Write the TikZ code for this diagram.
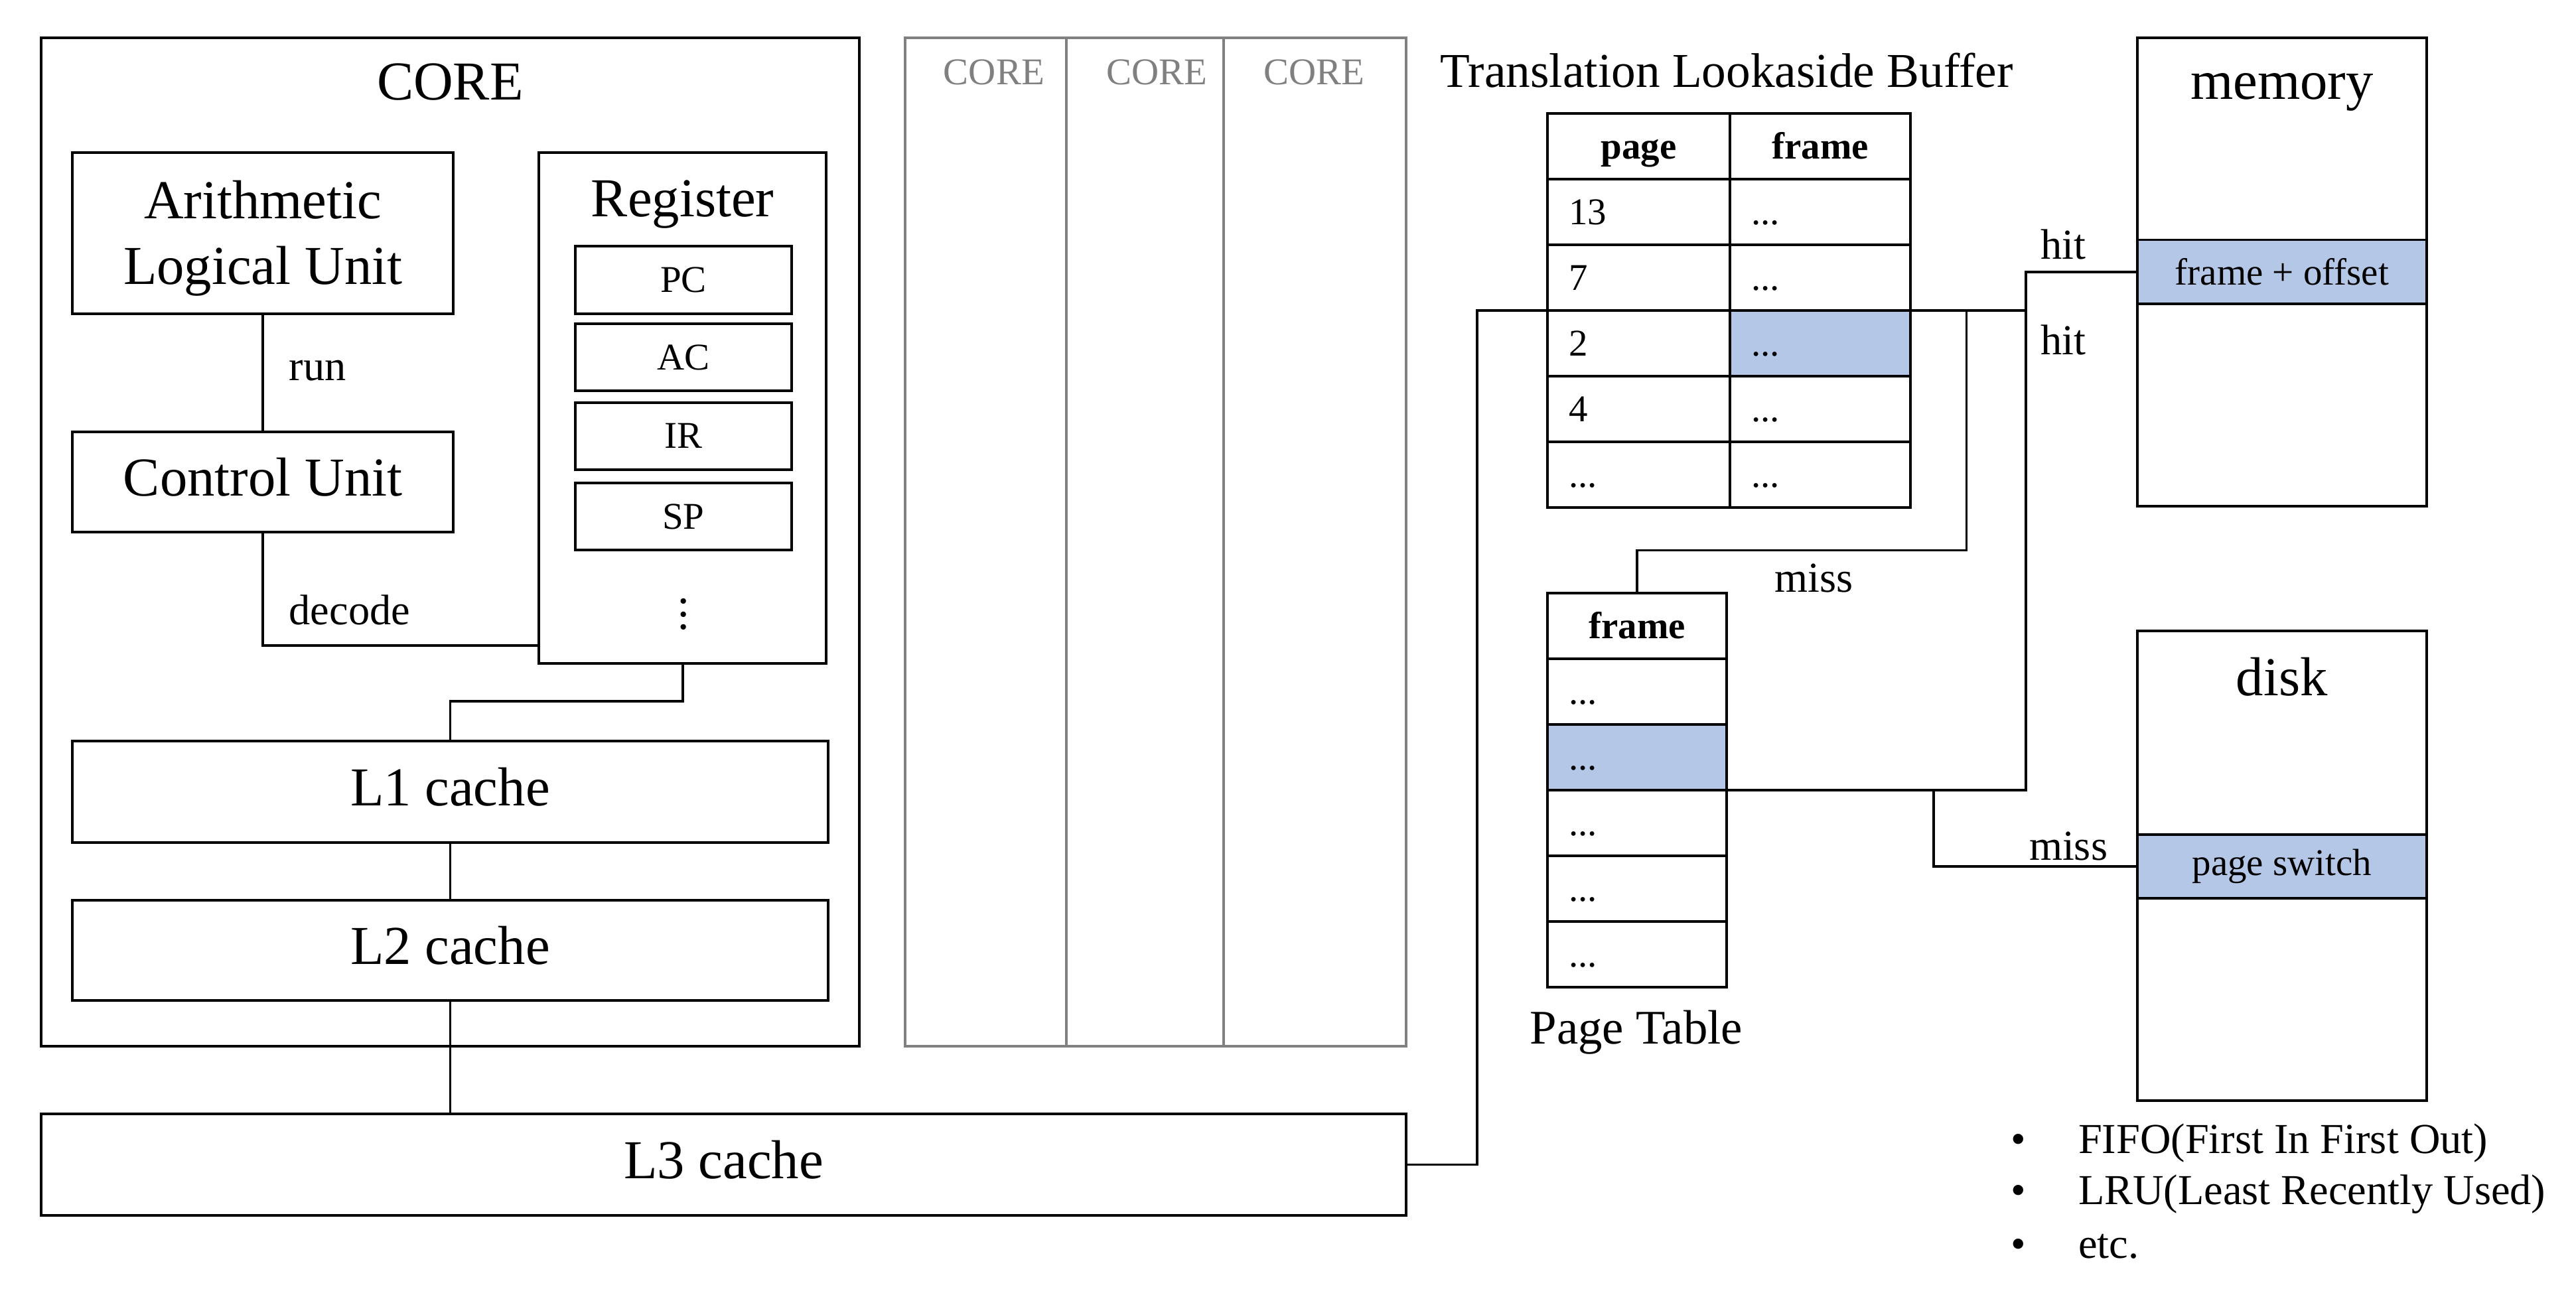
\documentclass[tikz,border=0pt]{standalone}
\usepackage{fontspec}
\setmainfont{Liberation Serif}
\usetikzlibrary{calc}
\definecolor{hl}{HTML}{B4C7E7}
\definecolor{cgray}{HTML}{808080}
\tikzset{
  box/.style={draw, line width=0.8pt, inner sep=0pt, outer sep=0pt},
  gbox/.style={draw=cgray, line width=0.8pt, inner sep=0pt, outer sep=0pt},
  conn/.style={line width=0.75pt},
  txt/.style={inner sep=0pt, outer sep=0pt},
  bigfont/.style={font=\fontsize{16.7}{20}\selectfont},
  midfont/.style={font=\fontsize{14.8}{17}\selectfont},
  lblfont/.style={font=\fontsize{13}{15}\selectfont},
  smallfont/.style={font=\fontsize{11.5}{13}\selectfont},
  raised/.style={text depth=3pt},
  cell/.style={box, smallfont, minimum height=20pt, text height=7.6pt, text depth=0pt},
  hcell/.style={cell, font=\fontsize{11.5}{13}\selectfont\bfseries},
  lcell/.style={cell, inner xsep=6.5pt, text width=#1, align=left},
}
\begin{document}
\begin{tikzpicture}[x=0.5pt, y=-0.5pt]
\useasboundingbox (0,0) rectangle (1568,788.4);

% ---------- CORE ----------
\node[box, minimum width=249pt, minimum height=307pt] (core) at (274,330) {};
\node[txt, bigfont] (coret) at (274,50) {CORE};
\node[box, minimum width=116pt, minimum height=49pt] (alu) at (160,142) {};
\node[txt, bigfont] (alut1) at (160,121.5) {Arithmetic};
\node[txt, bigfont, anchor=base] (alut2) at ([yshift=-20pt]alut1.base) {Logical Unit};
\node[box, bigfont, raised, minimum width=116pt, minimum height=30.5pt] (cu) at (160,293.5) {Control Unit};
\node[box, minimum width=87.5pt, minimum height=155.5pt] (reg) at (415.5,248.5) {};
\node[txt, bigfont] (regt) at (415.5,124.5) {Register};
\node[box, smallfont, minimum width=66pt, minimum height=20.5pt] (pc) at (416,170.5) {PC};
\node[box, smallfont, minimum width=66pt, minimum height=20.5pt] (ac) at (416,217.5) {AC};
\node[box, smallfont, minimum width=66pt, minimum height=20.5pt] (ir) at (416,265.5) {IR};
\node[box, smallfont, minimum width=66pt, minimum height=20.5pt] (sp) at (416,314.5) {SP};
\node[txt, font=\fontsize{14}{14}\selectfont] (rdots) at (416,368) {$\vdots$};
\node[box, bigfont, raised, minimum width=230pt, minimum height=31pt] (l1) at (274,482) {L1 cache};
\node[box, bigfont, raised, minimum width=230pt, minimum height=30.5pt] (l2) at (274,578.5) {L2 cache};
\node[box, bigfont, raised, minimum width=415.5pt, minimum height=31pt] (l3) at (440.5,709) {L3 cache};

\node[txt, lblfont, anchor=west] (run) at (176,225.5) {run};
\node[txt, lblfont, anchor=west] (dec) at (176,371.5) {decode};

% ---------- other cores ----------
\node[gbox, minimum width=49pt, minimum height=307pt] (g1) at (600,330) {};
\node[gbox, minimum width=48pt, minimum height=307pt] (g2) at (697,330) {};
\node[gbox, minimum width=55.5pt, minimum height=307pt] (g3) at (800.5,330) {};
\node[txt, smallfont, text=cgray] (g1t) at (605,44) {CORE};
\node[txt, smallfont, text=cgray] (g2t) at (704,44) {CORE};
\node[txt, smallfont, text=cgray] (g3t) at (800,44) {CORE};

% ---------- TLB ----------
\node[txt, midfont] (tlbt) at (1051,43) {Translation Lookaside Buffer};
\node[hcell, minimum width=55.5pt] (tha) at (997.5,89) {page};
\node[hcell, minimum width=55pt] (thb) at (1108,89) {frame};
\node[lcell=42.5pt] (t1a) at (997.5,129) {13};
\node[lcell=42pt] (t1b) at (1108,129) {...};
\node[lcell=42.5pt] (t2a) at (997.5,169) {7};
\node[lcell=42pt] (t2b) at (1108,169) {...};
\node[lcell=42.5pt] (t3a) at (997.5,209) {2};
\node[lcell=42pt, fill=hl] (t3b) at (1108,209) {...};
\node[lcell=42.5pt] (t4a) at (997.5,249) {4};
\node[lcell=42pt] (t4b) at (1108,249) {...};
\node[lcell=42.5pt] (t5a) at (997.5,289) {...};
\node[lcell=42pt] (t5b) at (1108,289) {...};

% ---------- Page table ----------
\node[hcell, minimum width=54.5pt] (ph) at (996.5,381) {frame};
\node[lcell=41.5pt] (p1) at (996.5,421) {...};
\node[lcell=41.5pt, fill=hl] (p2) at (996.5,461) {...};
\node[lcell=41.5pt] (p3) at (996.5,501) {...};
\node[lcell=41.5pt] (p4) at (996.5,541) {...};
\node[lcell=41.5pt] (p5) at (996.5,581) {...};
\node[txt, font=\fontsize{14.7}{17}\selectfont] (ptt) at (996,628.5) {Page Table};

% ---------- memory / disk ----------
\node[box, minimum width=88pt, minimum height=142.5pt] (mem) at (1389,165.5) {};
\node[txt, bigfont] (memt) at (1389,56) {memory};
\node[box, smallfont, fill=hl, minimum width=88pt, minimum height=19.5pt] (memb) at (1389,165.5) {frame + offset};
\node[box, minimum width=88pt, minimum height=143pt] (disk) at (1389,527) {};
\node[txt, bigfont] (diskt) at (1389,412) {disk};
\node[box, smallfont, fill=hl, minimum width=88pt, minimum height=19.5pt, text height=8pt, text depth=2.5pt] (diskb) at (1389,527.5) {page switch};

% ---------- labels ----------
\node[txt, lblfont] (hit1) at (1256,149) {hit};
\node[txt, lblfont] (hit2) at (1256,207) {hit};
\node[txt, lblfont] (miss1) at (1104,352) {miss};
\node[txt, lblfont] (miss2) at (1259,515) {miss};

\node[txt, lblfont, anchor=west] (b1) at (1224,696) {•\hspace{16pt}FIFO(First In First Out)};
\node[txt, lblfont, anchor=west] (b2) at (1224,727) {•\hspace{16pt}LRU(Least Recently Used)};
\node[txt, lblfont, anchor=west] (b3) at (1224,759) {•\hspace{16pt}etc.};

% ---------- connectors ----------
\coordinate (lx) at (899,0);
\coordinate (hx) at (1233,0);
\coordinate (tx) at (1197,0);
\coordinate (mx) at (1177,0);
\coordinate (my) at (0,335);

\draw[conn] (alu.south) -- (cu.north);
\draw[conn] (cu.south) |- ([yshift=5.5pt]reg.south west);
\draw[conn] (reg.south) -- ++(0,23) -| (l1.north);
\draw[conn] (l1.south) -- (l2.north);
\draw[conn] (l2.south) -- (l2.south |- l3.north);
\draw[conn] (l3.east) -| (lx |- t3a.north west) -- (t3a.north west);
\draw[conn] (t3b.north east) -- (t3b.north east -| hx) |- (memb.west);
\draw[conn] (t3b.north east -| tx) -- (tx |- my) -| (ph.north);
\draw[conn] (p2.south east) -- (p2.south east -| hx) -- (t3b.north east -| hx);
\draw[conn] (p2.south east -| mx) |- (diskb.west);
\end{tikzpicture}
\end{document}
